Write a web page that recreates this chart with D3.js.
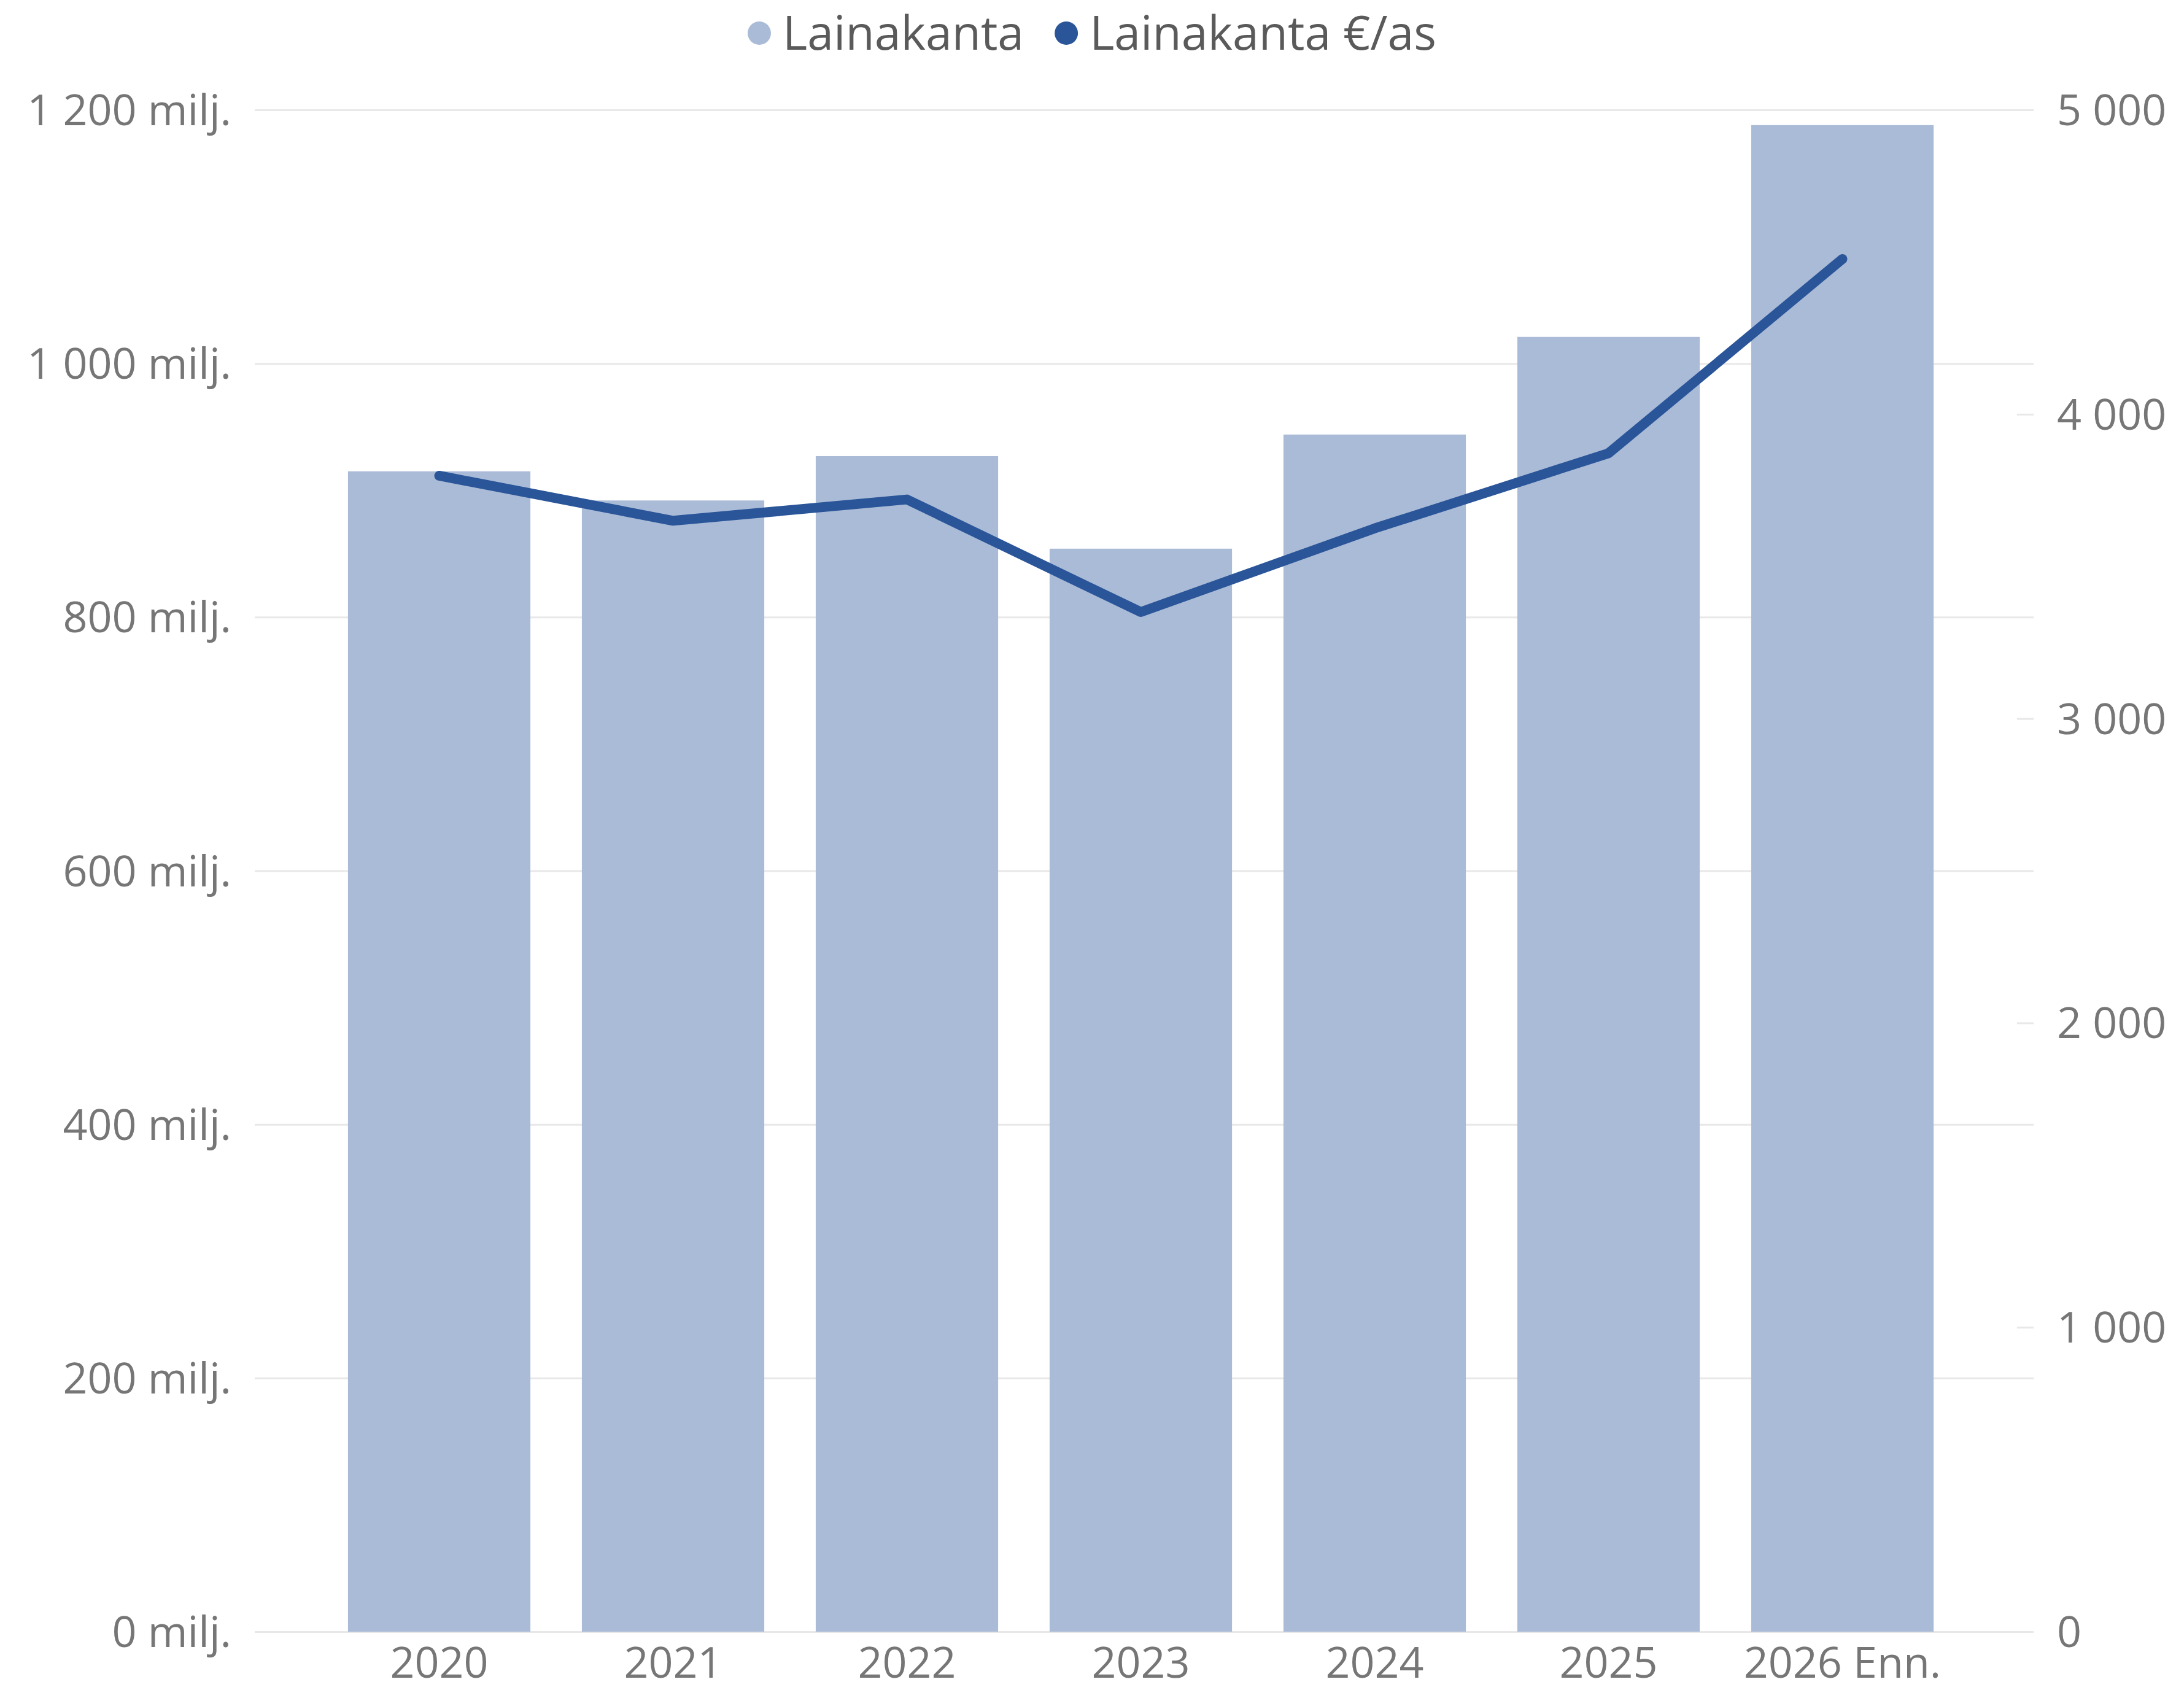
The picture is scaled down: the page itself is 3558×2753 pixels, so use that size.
<!DOCTYPE html>
<html>
<head>
<meta charset="utf-8">
<script src="https://cdn.jsdelivr.net/npm/d3@7"></script>
<style>
  html, body { margin: 0; padding: 0; background: #fff; }
  svg { display: block; }
  svg text { font-family: "Open Sans", "Noto Sans", sans-serif; }
</style>
</head>
<body>
<script>
// data
const years = ['2020', '2021', '2022', '2023', '2024', '2025', '2026 Enn.'];
const lainakanta = [915, 892, 927, 854, 944, 1021, 1188];          // milj. €
const lainakantaPerAs = [3798, 3650, 3720, 3350, 3625, 3872, 4510]; // €/as
const leftTicks = [0, 200, 400, 600, 800, 1000, 1200];
const rightTicks = [0, 1000, 2000, 3000, 4000, 5000];
const seriesNames = ['Lainakanta', 'Lainakanta €/as'];
const seriesColors = ['#aabbd7', '#2a5599'];

const width = 3558, height = 2753;
const fmt = n => d3.format(',')(n).replace(/,/g, '\u00a0');

const svg = d3.select('body').append('svg')
  .attr('width', width)
  .attr('height', height);

const plot = { left: 415, right: 3313, top: 179, bottom: 2658 };

const x = d3.scaleBand()
  .domain(years)
  .range([525, 3192])
  .paddingInner(0.22)
  .paddingOuter(0.11);

const yL = d3.scaleLinear().domain([0, 1200]).range([plot.bottom, plot.top]);
const yR = d3.scaleLinear().domain([0, 5000]).range([plot.bottom, plot.top]);

const styleText = g => g.selectAll('text')
  .attr('fill', '#767676')
  .attr('font-size', 70)
  .attr('font-family', '"Open Sans", "Noto Sans", sans-serif')
  .attr('dy', '0.35em');

// gridlines + left labels
const leftAxis = d3.axisLeft(yL)
  .tickValues(leftTicks)
  .tickSize(-(plot.right - plot.left))
  .tickPadding(38)
  .tickFormat(d => fmt(d) + ' milj.');

svg.append('g')
  .attr('class', 'y-left')
  .attr('transform', `translate(${plot.left},0)`)
  .call(leftAxis)
  .call(g => g.select('.domain').remove())
  .call(g => g.selectAll('line').attr('stroke', '#e8e8e8').attr('stroke-width', 3))
  .call(styleText);

// right axis
const rightAxis = d3.axisRight(yR)
  .tickValues(rightTicks)
  .tickSize(0)
  .tickPadding(38)
  .tickFormat(fmt);

svg.append('g')
  .attr('class', 'y-right')
  .attr('transform', `translate(${plot.right},0)`)
  .call(rightAxis)
  .call(g => g.select('.domain').remove())
  .call(g => g.selectAll('.tick').append('line')
    .attr('x1', -27).attr('x2', 0)
    .attr('stroke', '#e8e8e8').attr('stroke-width', 3))
  .call(styleText);

// bars
svg.append('g')
  .selectAll('rect')
  .data(lainakanta)
  .enter().append('rect')
    .attr('x', (d, i) => x(years[i]))
    .attr('y', d => yL(d))
    .attr('width', x.bandwidth())
    .attr('height', d => yL(0) - yL(d))
    .attr('fill', seriesColors[0]);

// line
const line = d3.line()
  .x((d, i) => x(years[i]) + x.bandwidth() / 2)
  .y(d => yR(d));

svg.append('path')
  .datum(lainakantaPerAs)
  .attr('d', line)
  .attr('fill', 'none')
  .attr('stroke', seriesColors[1])
  .attr('stroke-width', 16)
  .attr('stroke-linejoin', 'round')
  .attr('stroke-linecap', 'round');

// x axis labels
const xAxis = d3.axisBottom(x).tickSize(0).tickPadding(50);
svg.append('g')
  .attr('class', 'x-axis')
  .attr('transform', `translate(0,${plot.bottom})`)
  .call(xAxis)
  .call(g => g.select('.domain').remove())
  .call(styleText);

// legend
const legend = svg.append('g').attr('class', 'legend');
const items = legend.selectAll('g')
  .data(seriesNames)
  .enter().append('g');

items.append('circle')
  .attr('r', 19)
  .attr('fill', (d, i) => seriesColors[i]);

items.append('text')
  .attr('x', 38)
  .attr('dy', '0.35em')
  .attr('font-size', 77)
  .attr('fill', '#5a5a5a')
  .text(d => d);

let cursor = 0;
items.each(function () {
  const w = this.querySelector('text').getComputedTextLength() + 38 + 19;
  d3.select(this).attr('transform', `translate(${cursor + 19},0)`);
  cursor += w + 50;
});
const legendWidth = cursor - 50;
legend.attr('transform', `translate(${1779 - legendWidth / 2},54)`);
</script>
</body>
</html>
